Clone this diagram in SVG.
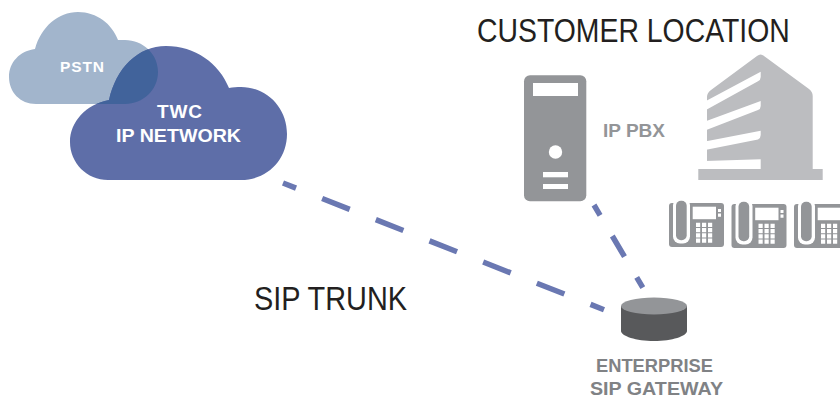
<svg xmlns="http://www.w3.org/2000/svg" xmlns:xlink="http://www.w3.org/1999/xlink" width="840" height="397" viewBox="0 0 840 397">
<style>
text{font-family:"Liberation Sans",Arial,sans-serif}
.b{font-weight:bold;text-anchor:start}
.w{fill:#fff}
.g{fill:#939598}
.d{fill:#808285}
.t{fill:#231f20;font-size:34px}
.c{fill:none;stroke:#6a78b2;stroke-width:5.500}
.h{fill:#fff}
</style>
<defs>
<path id="pstnShape" d="M36 104C20 104 9 92 9 77C9 62 20 51 35 49C41 27 58 12 78 12C97 12 112 24 118 40C120 40 122 40 125 40C143 40 158 54 158 72C158 90 143 104 125 104Z"/>
<path id="twcShape" d="M108 180C87 180 70 163 70 142C70 122 86 104 109 100C116 68 138 46 166 46C195 46 219 63 229 88C233 87 237 87 241 87C267 87 287 108 287 134C287 160 267 180 241 180Z"/>
<clipPath id="twcClip"><use xlink:href="#twcShape"/></clipPath>
<g id="phone">
<rect x="669" y="203" width="55" height="44" rx="3" class="g"/>
<rect x="673" y="198" width="17" height="45.500" rx="7" class="h"/>
<rect x="676" y="200.700" width="10.700" height="39.500" rx="5" class="g"/>
<rect x="692.700" y="206.700" width="23.300" height="12.500" class="h"/>
<path class="h" d="M718 209h3v3h-3zM718 213.500h3v3.200h-3z"/>
<path class="h" d="M696 222.700h4.200v4.200h-4.200zM702 222.700h4.200v4.200h-4.200zM708 222.700h4.200v4.200h-4.200zM696 228h4.200v4.200h-4.200zM702 228h4.200v4.200h-4.200zM708 228h4.200v4.200h-4.200zM696 233.300h4.200v4.200h-4.200zM702 233.300h4.200v4.200h-4.200zM708 233.300h4.200v4.200h-4.200zM696 238.600h4.200v4.200h-4.200zM702 238.600h4.200v4.200h-4.200zM708 238.600h4.200v4.200h-4.200z"/>
</g>
</defs>
<g id="connectors">
<path class="c" stroke-dasharray="29.600 28.100" stroke-dashoffset="15.600" d="M283 183L604 309.700"/>
<path class="c" stroke-dasharray="12 24 24 24" d="M594 205L643 288"/>
</g>
<g id="pstn">
<use xlink:href="#pstnShape" fill="#a2b5cc"/>
<text class="b w" x="60" y="72" font-size="15.500" textLength="44">PSTN</text>
</g>
<g id="twc">
<use xlink:href="#twcShape" fill="#5e6ea8"/>
<use xlink:href="#pstnShape" fill="#41639b" clip-path="url(#twcClip)"/>
<text class="b w" x="157" y="118" font-size="19" textLength="45">TWC</text>
<text class="b w" x="116" y="142" font-size="19" textLength="125" lengthAdjust="spacingAndGlyphs">IP NETWORK</text>
</g>
<g id="ip-pbx">
<rect x="524" y="75.300" width="62.300" height="126" rx="6" class="g"/>
<rect x="533" y="83" width="45" height="13" class="h"/>
<circle cx="555.500" cy="152" r="6.700" class="h"/>
<rect x="543" y="172" width="25" height="5.300" class="h"/>
<rect x="543" y="184" width="25" height="5" class="h"/>
<text class="b g" x="603" y="137" font-size="18" textLength="62" lengthAdjust="spacingAndGlyphs">IP PBX</text>
</g>
<g id="customer-building">
<path fill="#bcbdc0" d="M707 100L707 97Q707 93 711 90L757 56Q760.700 53 764 56L809 89Q812.700 92 812.700 96V169H822.700V180H698.300V169H707Z"/>
<path class="h" d="M705 101.500L760.700 71.700V77Q760.700 80 758 81.300L705 110.500Z"/>
<path class="h" d="M705 121.500L760.700 101V106Q760.700 109 758 110L705 130.500Z"/>
<path class="h" d="M705 141.500L760.700 130.700V135Q760.700 138 758 139.500L705 150Z"/>
<path class="h" d="M705 161L760.700 159.300V169H705Z"/>
</g>
<g id="phones">
<use xlink:href="#phone"/>
<use xlink:href="#phone" x="62.500" y="1"/>
<use xlink:href="#phone" x="125" y="1"/>
</g>
<g id="gateway">
<path fill="#58595b" d="M621 306V331C621 336 636 341 654 341C672 341 687 336 687 331V306Z"/>
<ellipse cx="654" cy="306" rx="33" ry="8.500" class="g"/>
<text class="b d" x="596" y="372" font-size="18" textLength="117" lengthAdjust="spacingAndGlyphs">ENTERPRISE</text>
<text class="b d" x="590" y="394.500" font-size="18" textLength="133" lengthAdjust="spacingAndGlyphs">SIP GATEWAY</text>
</g>
<text class="t" transform="translate(477 42) scale(.835 1)">CUSTOMER LOCATION</text>
<text class="t" transform="translate(254 310) scale(.85 1)">SIP TRUNK</text>
</svg>
